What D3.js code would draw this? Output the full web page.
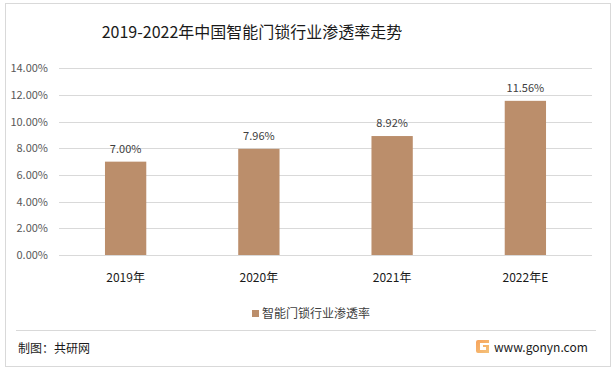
<!DOCTYPE html>
<html>
<head>
<meta charset="utf-8">
<script src="https://cdn.jsdelivr.net/npm/d3@7"></script>
<style>
  body { margin: 0; background: #fff; }
  svg text { font-family: 'Noto Sans CJK SC', 'Noto Sans', sans-serif; }
</style>
</head>
<body>
<svg class="chart" width="616" height="372"></svg>
<script>
const years = ['2019年', '2020年', '2021年', '2022年E'];
const rates = [7.00, 7.96, 8.92, 11.56];
const yTicks = [0, 2, 4, 6, 8, 10, 12, 14];
const seriesName = '智能门锁行业渗透率';
const titleText = '2019-2022年中国智能门锁行业渗透率走势';

function drawChart(){
  const svg = d3.select('svg.chart');
  const barColor = '#bb8e6b';

  // outer frame
  svg.append('rect')
    .attr('x', 5.5).attr('y', 3.5)
    .attr('width', 605).attr('height', 363)
    .style('fill', '#fff')
    .style('stroke', '#d9d9d9');

  svg.append('text')
    .attr('x', 252).attr('y', 38)
    .attr('text-anchor', 'middle')
    .text(titleText)
    .style('font-size', '16px')
    .style('fill', '#1a1a1a');

  const x = d3.scaleBand()
    .domain(years)
    .range([59, 592])
    .paddingInner(0.69)
    .paddingOuter(0.345);

  const y = d3.scaleLinear()
    .domain([0, 14])
    .range([255, 68.3]);

  const g = svg.append('g');

  g.selectAll('line.grid')
    .data(yTicks)
    .enter()
    .append('line')
    .attr('class', 'grid')
    .attr('x1', 59).attr('x2', 592)
    .attr('y1', d => Math.round(y(d)) + 0.5)
    .attr('y2', d => Math.round(y(d)) + 0.5)
    .style('stroke', '#d9d9d9')
    .style('stroke-width', 1);

  g.selectAll('text.ytick')
    .data(yTicks)
    .enter()
    .append('text')
    .attr('class', 'ytick')
    .attr('x', 48)
    .attr('y', d => y(d) + 4)
    .attr('text-anchor', 'end')
    .text(d => d.toFixed(2) + '%')
    .style('font-size', '11px')
    .style('fill', '#595959');

  g.selectAll('rect.bar')
    .data(rates)
    .enter()
    .append('rect')
    .attr('class', 'bar')
    .attr('x', (d, i) => x(years[i]))
    .attr('width', x.bandwidth())
    .attr('y', d => y(d))
    .attr('height', d => y(0) - y(d))
    .style('fill', barColor);

  g.selectAll('text.val')
    .data(rates)
    .enter()
    .append('text')
    .attr('class', 'val')
    .attr('x', (d, i) => x(years[i]) + x.bandwidth() / 2)
    .attr('y', d => y(d) - 9)
    .attr('text-anchor', 'middle')
    .text(d => d.toFixed(2) + '%')
    .style('font-size', '11px')
    .style('fill', '#404040');

  g.selectAll('text.xtick')
    .data(years)
    .enter()
    .append('text')
    .attr('class', 'xtick')
    .attr('x', d => x(d) + x.bandwidth() / 2)
    .attr('y', 282)
    .attr('text-anchor', 'middle')
    .text(d => d)
    .style('font-size', '12px')
    .style('fill', '#1a1a1a');

  // legend
  svg.append('rect')
    .attr('x', 252).attr('y', 310)
    .attr('width', 7).attr('height', 7)
    .style('fill', barColor);
  svg.append('text')
    .attr('x', 262).attr('y', 318)
    .text(seriesName)
    .style('font-size', '12px')
    .style('fill', '#404040');

  // footer
  svg.append('line')
    .attr('x1', 16).attr('x2', 596)
    .attr('y1', 330.5).attr('y2', 330.5)
    .style('stroke', '#d9d9d9');

  svg.append('text')
    .attr('x', 18).attr('y', 353)
    .text('制图：共研网')
    .style('font-size', '12px')
    .style('fill', '#1a1a1a');

  const grad = svg.append('defs').append('linearGradient')
    .attr('id', 'logoGrad')
    .attr('x1', 0).attr('y1', 0).attr('x2', 1).attr('y2', 1);
  grad.append('stop').attr('offset', 0).style('stop-color', '#f7a35c');
  grad.append('stop').attr('offset', 1).style('stop-color', '#f4c27a');

  const logo = svg.append('g').attr('transform', 'translate(476, 340)');
  logo.append('path')
    .attr('d', 'M2,0 H13 V3 H4 V10 H10 V7 H7 V5 H13 V13 H2 Q0,13 0,11 V2 Q0,0 2,0 Z')
    .style('fill', 'url(#logoGrad)');

  svg.append('text')
    .attr('x', 494).attr('y', 352)
    .text('www.gonyn.com')
    .style('font-size', '12px')
    .style('fill', '#1a1a1a');
}

drawChart();
</script>
</body>
</html>
